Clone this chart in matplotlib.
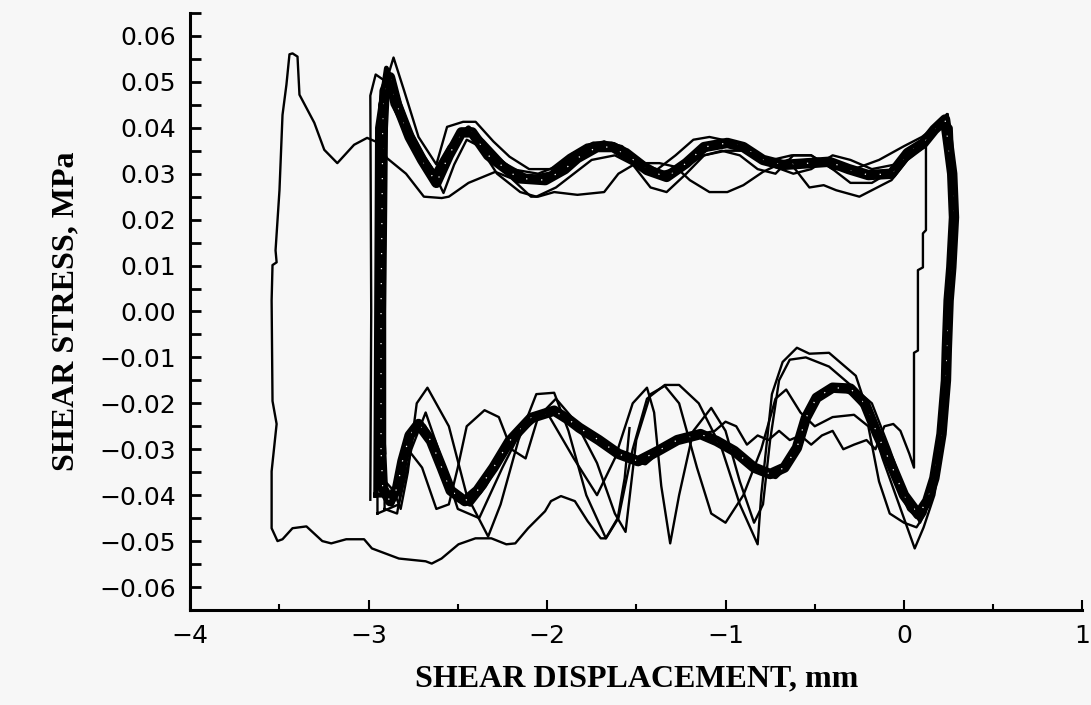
import matplotlib.pyplot as plt
from matplotlib.ticker import MultipleLocator, FixedLocator

# Ciclo principal (banda gruesa de ciclos superpuestos)
main_x = [-2.93, -2.93, -2.92, -2.91, -2.88, -2.84, -2.77, -2.70, -2.62, -2.55, -2.48, -2.42,
          -2.33, -2.16, -2.01, -1.90, -1.83, -1.72, -1.63, -1.54, -1.44, -1.33, -1.22, -1.12,
          -0.99, -0.90, -0.79, -0.68, -0.53, -0.42, -0.31, -0.20, -0.07, 0.02, 0.11, 0.17,
          0.23, 0.25, 0.27, 0.28, 0.265, 0.25, 0.24, 0.235, 0.21, 0.17, 0.13, 0.08,
          0.00, -0.08, -0.15, -0.22, -0.30, -0.40, -0.49, -0.55, -0.60, -0.67, -0.75, -0.84,
          -0.95, -1.05, -1.14, -1.27, -1.38, -1.49, -1.60, -1.71, -1.82, -1.87, -1.96, -2.09,
          -2.21, -2.30, -2.39, -2.46, -2.54, -2.59, -2.65, -2.72, -2.77, -2.81, -2.84, -2.88,
          -2.92, -2.93]
main_y = [-0.030, 0.000, 0.040, 0.048, 0.051, 0.045, 0.038, 0.033, 0.028, 0.034, 0.039, 0.039,
          0.034, 0.029, 0.0286, 0.031, 0.0334, 0.0358, 0.0358, 0.0337, 0.0308, 0.0293, 0.0323, 0.0358,
          0.0367, 0.0358, 0.033, 0.0319, 0.0323, 0.0326, 0.031, 0.0297, 0.030, 0.0345, 0.0367, 0.0396,
          0.0418, 0.036, 0.030, 0.0205, 0.0096, 0.0024, -0.008, -0.015, -0.0267, -0.0363, -0.0413, -0.0442,
          -0.040, -0.0326, -0.0267, -0.020, -0.0168, -0.0166, -0.0188, -0.0232, -0.0297, -0.034, -0.0354, -0.034,
          -0.0304, -0.0282, -0.0267, -0.028, -0.0304, -0.0326, -0.031, -0.028, -0.0253, -0.0238, -0.0216, -0.0232,
          -0.0282, -0.034, -0.039, -0.0413, -0.039, -0.034, -0.0282, -0.0245, -0.027, -0.0326, -0.0385, -0.0413,
          -0.0385, -0.030]

# Segundo ciclo de la banda, casi superpuesto al principal
band_x = [-2.96, -2.95, -2.90, -2.86, -2.78, -2.70, -2.63, -2.57, -2.50, -2.44, -2.36, -2.24,
          -2.10, -1.98, -1.86, -1.74, -1.64, -1.55, -1.45, -1.36, -1.26, -1.16, -1.04, -0.94,
          -0.84, -0.72, -0.60, -0.48, -0.36, -0.24, -0.12, -0.02, 0.08, 0.16, 0.22,
          0.26, 0.275, 0.26, 0.245, 0.22, 0.18, 0.13, 0.09,
          0.03, -0.05, -0.12, -0.20, -0.28, -0.36, -0.46, -0.53, -0.58, -0.64, -0.72, -0.80,
          -0.90, -1.00, -1.10, -1.22, -1.33, -1.45, -1.56, -1.66, -1.78, -1.90, -2.02, -2.15,
          -2.26, -2.35, -2.43, -2.50, -2.57, -2.62, -2.69, -2.75, -2.79, -2.83, -2.87, -2.91, -2.96]
band_y = [-0.040, 0.040, 0.053, 0.049, 0.040, 0.034, 0.030, 0.033, 0.038, 0.040, 0.037, 0.032,
          0.029, 0.030, 0.034, 0.0365, 0.0365, 0.035, 0.032, 0.030, 0.031, 0.034, 0.037, 0.0365,
          0.034, 0.032, 0.0325, 0.033, 0.0315, 0.030, 0.0295, 0.032, 0.036, 0.039, 0.042,
          0.040, 0.026, 0.008, -0.010, -0.024, -0.034, -0.042, -0.045,
          -0.043, -0.036, -0.029, -0.022, -0.018, -0.0165, -0.0175, -0.021, -0.027, -0.033, -0.036, -0.035,
          -0.032, -0.029, -0.027, -0.027, -0.029, -0.033, -0.032, -0.029, -0.026, -0.0225, -0.022, -0.026,
          -0.032, -0.038, -0.042, -0.041, -0.036, -0.030, -0.025, -0.026, -0.030, -0.037, -0.042, -0.040, -0.040]

# Primera carga + primer ciclo
first_x = [-1.538, -1.565, -1.604, -1.671, -1.699, -1.772, -1.844, -1.922, -1.978, -2.011, -2.106,
           -2.178, -2.228, -2.312, -2.401, -2.496, -2.591, -2.646, -2.680, -2.830, -2.981, -3.025,
           -3.125, -3.209, -3.259, -3.348, -3.426, -3.482, -3.510, -3.543, -3.543, -3.515, -3.538,
           -3.543, -3.538, -3.515, -3.521, -3.499, -3.482, -3.460, -3.443, -3.426, -3.398, -3.387,
           -3.304, -3.248, -3.175, -3.081, -3.008, -2.942, -2.897, -2.79, -2.69, -2.59, -2.55,
           -2.44, -2.29, -2.20, -2.09, -2.05, -1.96, -1.83, -1.68, -1.60, -1.50, -1.37, -1.28,
           -1.20, -1.09, -0.99, -0.90, -0.79, -0.65, -0.53, -0.45, -0.38, -0.25, -0.20, -0.07,
           0.02, 0.123, 0.123, 0.106, 0.106, 0.078, 0.078, 0.056, 0.056, 0.03, -0.02, -0.06,
           -0.11, -0.16, -0.21, -0.28, -0.34, -0.40, -0.46, -0.52, -0.58, -0.64, -0.70, -0.76,
           -0.82, -0.88, -0.94, -1.00, -1.06, -1.14]
first_y = [-0.0254, -0.0363, -0.0450, -0.0494, -0.0494, -0.0457, -0.0413, -0.0402, -0.0413, -0.0435, -0.0472,
           -0.0505, -0.0507, -0.0494, -0.0494, -0.0507, -0.0538, -0.0549, -0.0544, -0.0538, -0.0516, -0.0496,
           -0.0496, -0.0505, -0.0500, -0.0468, -0.0472, -0.0496, -0.0500, -0.0472, -0.0348, -0.0245, -0.0195,
           0.0024, 0.0101, 0.0107, 0.0133, 0.0264, 0.0428, 0.0494, 0.0560, 0.0562, 0.0555, 0.0472,
           0.0411, 0.0352, 0.0323, 0.0363, 0.0378, 0.0367, 0.0334, 0.030, 0.025, 0.0247, 0.025,
           0.028, 0.0304, 0.029, 0.025, 0.025, 0.026, 0.0254, 0.026, 0.030, 0.0323, 0.0323, 0.0315,
           0.0286, 0.026, 0.026, 0.0275, 0.0304, 0.033, 0.027, 0.0275, 0.0264, 0.025, 0.026, 0.0286,
           0.033, 0.036, 0.0177, 0.0170, 0.0096, 0.0090, -0.0085, -0.0090, -0.034, -0.031, -0.026, -0.0245,
           -0.025, -0.030, -0.028, -0.029, -0.030, -0.026, -0.027, -0.029, -0.027, -0.028, -0.026, -0.028,
           -0.027, -0.029, -0.025, -0.024, -0.026, -0.0267]

# Ciclos con mayor dispersion
c1_x = [-2.99, -2.985, -2.99, -2.96, -2.90, -2.87, -2.77, -2.65, -2.58, -2.52, -2.45, -2.38,
        -2.28, -2.15, -2.06, -1.95, -1.85, -1.75, -1.62, -1.52, -1.42, -1.33, -1.22, -1.12,
        -1.02, -0.92, -0.82, -0.72, -0.62, -0.52, -0.40, -0.30, -0.18, -0.05, 0.05, 0.15,
        0.21, 0.24, 0.26, 0.27, 0.255, 0.25, 0.22, 0.17, 0.11, 0.06,
        -0.12, -0.21, -0.27, -0.42, -0.53, -0.60, -0.68, -0.74, -0.80, -0.82, -0.92, -1.02,
        -1.15, -1.26, -1.34, -1.44, -1.52, -1.60, -1.67, -1.78, -1.88, -1.96, -2.06, -2.16,
        -2.26, -2.33, -2.45, -2.55, -2.67, -2.73, -2.78, -2.82, -2.86, -2.93]
c1_y = [-0.041, 0.000, 0.047, 0.0516, 0.050, 0.045, 0.0374, 0.0315, 0.0258, 0.032, 0.0374, 0.036,
        0.030, 0.026, 0.025, 0.027, 0.030, 0.033, 0.034, 0.032, 0.027, 0.026, 0.030, 0.034,
        0.035, 0.034, 0.031, 0.030, 0.034, 0.034, 0.031, 0.028, 0.028, 0.031, 0.034, 0.038,
        0.041, 0.043, 0.035, 0.020, 0.005, -0.012, -0.028, -0.040, -0.047, -0.0516,
        -0.032, -0.021, -0.014, -0.009, -0.0092, -0.0079, -0.011, -0.018, -0.040, -0.0507, -0.042, -0.030,
        -0.020, -0.016, -0.016, -0.019, -0.030, -0.045, -0.0494, -0.040, -0.026, -0.0177, -0.018, -0.028,
        -0.042, -0.049, -0.040, -0.025, -0.0166, -0.020, -0.035, -0.043, -0.039, -0.036]

c2_x = [-2.95, -2.95, -2.94, -2.86, -2.80, -2.72, -2.62, -2.56, -2.47, -2.40, -2.30, -2.21,
        -2.10, -1.98, -1.88, -1.78, -1.68, -1.58, -1.48, -1.38, -1.28, -1.18, -1.09, -0.97,
        -0.86, -0.74, -0.63, -0.52, -0.40, -0.28, -0.14, 0.00, 0.10, 0.20,
        0.25, 0.285, 0.27, 0.25, 0.21, 0.15, 0.09,
        0.02, -0.08, -0.18, -0.30, -0.42, -0.55, -0.64, -0.70, -0.75, -0.79, -0.84, -0.92,
        -1.00, -1.08, -1.18, -1.26, -1.31, -1.36, -1.40, -1.44, -1.52, -1.62, -1.72, -1.85,
        -2.00, -2.12, -2.25, -2.38, -2.50, -2.60, -2.68, -2.76, -2.83, -2.95]
c2_y = [-0.044, 0.000, 0.045, 0.0553, 0.048, 0.038, 0.032, 0.0402, 0.0413, 0.0413, 0.037, 0.0337,
        0.031, 0.031, 0.034, 0.0363, 0.037, 0.035, 0.031, 0.031, 0.034, 0.0374, 0.038, 0.037,
        0.034, 0.033, 0.034, 0.034, 0.031, 0.031, 0.033, 0.036, 0.038, 0.041,
        0.040, 0.025, 0.008, -0.010, -0.030, -0.041, -0.046,
        -0.041, -0.030, -0.020, -0.016, -0.012, -0.010, -0.0105, -0.015, -0.028, -0.042, -0.046, -0.037,
        -0.026, -0.021, -0.026, -0.040, -0.0505, -0.038, -0.022, -0.0166, -0.020, -0.032, -0.040, -0.032,
        -0.022, -0.024, -0.034, -0.045, -0.043, -0.031, -0.022, -0.030, -0.042, -0.044]

c3_x = [-2.91, -2.91, -2.89, -2.85, -2.75, -2.64, -2.55, -2.45, -2.35, -2.20, -2.05, -1.92,
        -1.80, -1.68, -1.58, -1.46, -1.35, -1.25, -1.12, -1.00, -0.88, -0.76, -0.62, -0.52,
        -0.40, -0.30, -0.18, -0.05, 0.05, 0.15, 0.22,
        0.245, 0.275, 0.265, 0.235, 0.22, 0.18, 0.12, 0.07,
        0.00, -0.08, -0.14, -0.20, -0.28, -0.40, -0.50, -0.58, -0.66, -0.72, -0.80, -0.90,
        -1.00, -1.08, -1.16, -1.26, -1.34, -1.42, -1.50, -1.56, -1.62, -1.72, -1.84, -1.95,
        -2.05, -2.12, -2.20, -2.27, -2.35, -2.45, -2.50, -2.55, -2.62, -2.70, -2.78, -2.84, -2.91]
c3_y = [-0.043, 0.045, 0.052, 0.047, 0.036, 0.030, 0.036, 0.040, 0.036, 0.031, 0.030, 0.032,
        0.035, 0.037, 0.036, 0.032, 0.030, 0.031, 0.034, 0.035, 0.035, 0.032, 0.030, 0.031,
        0.034, 0.033, 0.031, 0.032, 0.035, 0.039, 0.042,
        0.043, 0.030, 0.012, -0.005, -0.022, -0.035, -0.044, -0.047,
        -0.046, -0.044, -0.037, -0.025, -0.0225, -0.023, -0.025, -0.022, -0.017, -0.019, -0.030, -0.040,
        -0.046, -0.044, -0.034, -0.020, -0.0162, -0.018, -0.028, -0.048, -0.044, -0.033, -0.024, -0.019,
        -0.023, -0.032, -0.030, -0.023, -0.0215, -0.025, -0.034, -0.042, -0.043, -0.034, -0.030, -0.044, -0.043]

fig = plt.figure(figsize=(10.91, 7.05), dpi=100, facecolor='#f7f7f7')
ax = fig.add_axes([0.1742, 0.1348, 0.818, 0.8468])
ax.set_facecolor('#f7f7f7')

ax.plot(main_x, main_y, color='black', lw=7.5, solid_joinstyle='round')
ax.plot(band_x, band_y, color='black', lw=3.5, solid_joinstyle='round')
ax.plot(main_x, main_y, color='white', lw=0.9, ls=(0, (1, 11)))
for xs, ys in [(first_x, first_y), (c1_x, c1_y), (c2_x, c2_y), (c3_x, c3_y)]:
    ax.plot(xs, ys, color='black', lw=1.7)

ax.set_xlim(-4, 1)
ax.set_ylim(-0.065, 0.065)
ax.xaxis.set_major_locator(MultipleLocator(1))
ax.xaxis.set_minor_locator(MultipleLocator(0.5))
ax.yaxis.set_major_locator(FixedLocator([-0.06, -0.05, -0.04, -0.03, -0.02, -0.01, 0, 0.01, 0.02, 0.03, 0.04, 0.05, 0.06]))
ax.yaxis.set_minor_locator(MultipleLocator(0.005))
ax.yaxis.set_major_formatter(plt.FuncFormatter(lambda v, p: ('%.2f' % v).replace('-', '\u2212')))
ax.xaxis.set_major_formatter(plt.FuncFormatter(lambda v, p: ('%d' % round(v)).replace('-', '\u2212')))

ax.spines['top'].set_visible(False)
ax.spines['right'].set_visible(False)
ax.spines['left'].set_linewidth(2.2)
ax.spines['bottom'].set_linewidth(2.2)
ax.tick_params(axis='y', which='both', direction='in', length=8, width=2, labelsize=18, pad=10)
ax.tick_params(axis='x', which='major', direction='in', length=7, width=1.5, labelsize=18, pad=10)
ax.tick_params(axis='x', which='minor', direction='in', length=4, width=1.5)

ax.set_xlabel('SHEAR DISPLACEMENT, mm', family='Liberation Serif', weight='bold', fontsize=23, labelpad=12)
ax.set_ylabel('SHEAR STRESS, MPa', family='Liberation Serif', weight='bold', fontsize=23, labelpad=14)

fig.savefig('out.png', dpi=100, facecolor=fig.get_facecolor())
